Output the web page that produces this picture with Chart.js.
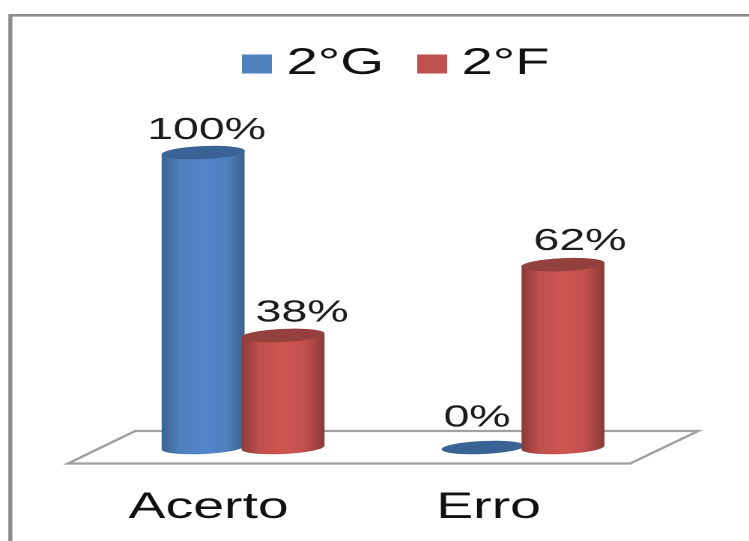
<!DOCTYPE html>
<html lang="pt">
<head>
<meta charset="utf-8">
<title>Acerto e Erro</title>
<script src="https://cdn.jsdelivr.net/npm/chart.js@4"></script>
<style>
  html, body { margin: 0; padding: 0; background: #fff; overflow: hidden; }
  #wrap { width: 749px; height: 541px; overflow: hidden; }
  /* The drawing is wide and low: text and cylinders are stretched sideways as a whole. */
  #chart { display: block; transform-origin: 0 0; transform: scaleX(1.498); }
</style>
</head>
<body>
<div id="wrap"><canvas id="chart" width="500" height="541"></canvas></div>
<script>
const categories = ['Acerto', 'Erro'];
const seriesNames = ['2°G', '2°F'];
const valuesG = [100, 0];
const valuesF = [38, 62];

const palette = [
  { base: '#4f81bd', light: '#5285ca', dark: '#3c628f', cap: '#3a6395' },
  { base: '#c0504d', light: '#cf5552', dark: '#8a3a38', cap: '#94403e' }
];

// Offsets of the value labels from their bars: [dx, dy] per series and category.
const labelShift = [
  [[2.3, -13.5], [-4, -21]],
  [[12.7, -14], [11.3, -14.5]]
];

const FONT = '"Liberation Sans", Arial, sans-serif';

function legendSwatch(color) {
  const c = document.createElement('canvas');
  c.width = 20;
  c.height = 19;
  const g = c.getContext('2d');
  g.fillStyle = color;
  g.fillRect(0, 0, 20, 19);
  return c;
}

function drawCylinder(ctx, bar, colors) {
  const rx = bar.width / 2;
  const ry = 6.5;
  const tilt = -0.07;
  const cx = bar.x;
  if (Math.abs(bar.base - bar.y) > 0.5) {
    const grad = ctx.createLinearGradient(cx - rx, 0, cx + rx, 0);
    grad.addColorStop(0, colors.dark);
    grad.addColorStop(0.22, colors.base);
    grad.addColorStop(0.5, colors.light);
    grad.addColorStop(0.78, colors.base);
    grad.addColorStop(1, colors.dark);
    ctx.beginPath();
    ctx.ellipse(cx, bar.base, rx, ry, tilt, 0, Math.PI);
    ctx.ellipse(cx, bar.y, rx, ry, tilt, Math.PI, 2 * Math.PI);
    ctx.closePath();
    ctx.fillStyle = grad;
    ctx.fill();
  }
  ctx.beginPath();
  ctx.ellipse(cx, bar.y, rx, ry, tilt, 0, 2 * Math.PI);
  ctx.fillStyle = colors.cap;
  ctx.fill();
}

const framePlugin = {
  id: 'frame',
  beforeDraw(chart) {
    const { ctx, width, height } = chart;
    ctx.save();
    ctx.strokeStyle = '#8c8c8c';
    ctx.lineWidth = 2.7;
    ctx.beginPath();
    ctx.moveTo(6.9, height);
    ctx.lineTo(6.9, 15.3);
    ctx.lineTo(width, 15.3);
    ctx.stroke();
    ctx.restore();
  }
};

const legendPlacement = {
  id: 'legendPlacement',
  afterLayout(chart) {
    chart.legend.left += 13;
    chart.legend.right += 13;
  }
};

const cylinders = {
  id: 'cylinders',
  beforeDatasetsDraw(chart) {
    const { ctx, scales } = chart;
    const area = chart.chartArea;
    const zero = scales.y.getPixelForValue(0);

    // Floor of the plot: a parallelogram under the columns.
    ctx.save();
    ctx.strokeStyle = '#a0a0a0';
    ctx.lineWidth = 2.2;
    ctx.lineJoin = 'miter';
    ctx.beginPath();
    ctx.moveTo(area.left - 23.5, zero + 16);
    ctx.lineTo(area.right - 22, zero + 16);
    ctx.lineTo(area.right + 23.5, zero - 16.5);
    ctx.lineTo(area.left + 21.5, zero - 16.5);
    ctx.closePath();
    ctx.stroke();

    chart.data.datasets.forEach((ds, d) => {
      chart.getDatasetMeta(d).data.forEach(bar => drawCylinder(ctx, bar, palette[d]));
    });

    ctx.fillStyle = '#1c1c1c';
    ctx.font = '31px ' + FONT;
    ctx.textAlign = 'center';
    ctx.textBaseline = 'alphabetic';
    chart.data.datasets.forEach((ds, d) => {
      chart.getDatasetMeta(d).data.forEach((bar, i) => {
        const [dx, dy] = labelShift[d][i];
        ctx.fillText(ds.data[i] + '%', bar.x + dx, bar.y + dy);
      });
    });
    ctx.restore();
    return false;
  }
};

new Chart(document.getElementById('chart'), {
  type: 'bar',
  data: {
    labels: categories,
    datasets: [
      { label: seriesNames[0], data: valuesG, backgroundColor: palette[0].base },
      { label: seriesNames[1], data: valuesF, backgroundColor: palette[1].base }
    ]
  },
  plugins: [framePlugin, legendPlacement, cylinders],
  options: {
    responsive: false,
    devicePixelRatio: 2,
    animation: false,
    layout: { padding: { left: 68.8, right: 57.4, top: 14, bottom: 0 } },
    datasets: { bar: { categoryPercentage: 0.571, barPercentage: 1.04 } },
    plugins: {
      tooltip: { enabled: false },
      legend: {
        position: 'top',
        labels: {
          usePointStyle: true,
          pointStyleWidth: 2,
          padding: 31,
          color: '#111',
          font: { family: FONT, size: 37.5 },
          generateLabels(chart) {
            return Chart.defaults.plugins.legend.labels.generateLabels(chart).map((item, i) => {
              item.pointStyle = legendSwatch(palette[i].base);
              return item;
            });
          }
        }
      }
    },
    scales: {
      x: {
        grid: { display: false, drawTicks: false },
        border: { display: false },
        ticks: {
          padding: 38,
          labelOffset: -23,
          color: '#111',
          maxRotation: 0,
          font: { family: FONT, size: 37 }
        },
        afterFit(scale) { scale.height = 93.5; }
      },
      y: { display: false, min: 0, max: 120.4 }
    }
  }
});
</script>
</body>
</html>
